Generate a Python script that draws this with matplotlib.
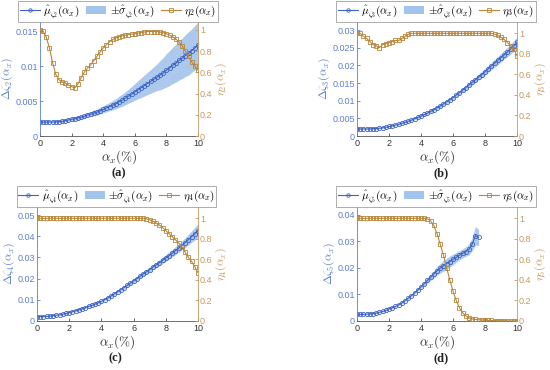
import numpy as np
import matplotlib
matplotlib.use("Agg")
import matplotlib.pyplot as plt
from matplotlib.ticker import FuncFormatter
from matplotlib.patches import Patch
from matplotlib.lines import Line2D

plt.rcParams['font.family'] = ['Liberation Sans', 'DejaVu Sans']
plt.rcParams['mathtext.fontset'] = 'cm'

alpha_x = np.linspace(0, 10, 51)

mu_a = [0.0020, 0.0020, 0.0020, 0.0020, 0.0020, 0.00202, 0.00206, 0.00212, 0.0022, 0.0023,
        0.0024, 0.0025, 0.0026, 0.0027, 0.0028, 0.0030, 0.0031, 0.0033, 0.0034, 0.0036,
        0.0038, 0.0040, 0.0042, 0.0044, 0.0046, 0.0049, 0.0051, 0.0054, 0.0057, 0.0060,
        0.0063, 0.0066, 0.0069, 0.0072, 0.0075, 0.0078, 0.0081, 0.0084, 0.0087, 0.0090,
        0.0094, 0.0097, 0.0101, 0.0104, 0.0108, 0.0111, 0.0115, 0.0118, 0.0122, 0.0126, 0.0130]
sd_a = [0.0001, 0.0001, 0.0001, 0.0001, 0.0001, 0.0001, 0.00012, 0.00014, 0.00016, 0.00018,
        0.0002, 0.00022, 0.00025, 0.00028, 0.0003, 0.00033, 0.00036, 0.0004, 0.00043, 0.00046,
        0.0005, 0.00055, 0.0006, 0.00066, 0.00073, 0.0008, 0.00087, 0.00094, 0.001, 0.0011,
        0.0012, 0.0013, 0.0014, 0.0015, 0.0016, 0.0017, 0.0018, 0.0019, 0.0021, 0.0022,
        0.0024, 0.0025, 0.0026, 0.0027, 0.0028, 0.0029, 0.0030, 0.0031, 0.0031, 0.0032, 0.0033]
eta_a = [1.0, 0.99, 0.93, 0.83, 0.69, 0.58, 0.53, 0.51, 0.50, 0.48,
         0.465, 0.455, 0.49, 0.55, 0.60, 0.64, 0.67, 0.71, 0.75, 0.79,
         0.83, 0.86, 0.89, 0.91, 0.925, 0.935, 0.945, 0.95, 0.955, 0.96,
         0.965, 0.97, 0.975, 0.98, 0.985, 0.985, 0.985, 0.985, 0.98, 0.975,
         0.965, 0.95, 0.935, 0.915, 0.885, 0.85, 0.80, 0.75, 0.70, 0.66, 0.62]

mu_b = [0.0020, 0.0020, 0.0020, 0.0020, 0.0020, 0.0021, 0.0021, 0.0022, 0.0023, 0.0025,
        0.0027, 0.0029, 0.0031, 0.0033, 0.0036, 0.0039, 0.0042, 0.0045, 0.0049, 0.0053,
        0.0057, 0.0061, 0.0065, 0.0070, 0.0075, 0.0080, 0.0085, 0.0091, 0.0097, 0.0103,
        0.0109, 0.0116, 0.0123, 0.0130, 0.0137, 0.0145, 0.0152, 0.0159, 0.0167, 0.0174,
        0.0182, 0.0190, 0.0198, 0.0206, 0.0214, 0.0222, 0.0230, 0.0238, 0.0246, 0.0255, 0.0265]
sd_b = [0.0001] * 10 + [
        0.00012, 0.00014, 0.00016, 0.00018, 0.0002, 0.00022, 0.00024, 0.00026, 0.00028, 0.0003,
        0.00032, 0.00034, 0.00036, 0.00038, 0.0004, 0.00042, 0.00044, 0.00046, 0.00048, 0.0005,
        0.00053, 0.00056, 0.0006, 0.00064, 0.00068, 0.00072, 0.00076, 0.0008, 0.00085, 0.0009,
        0.00095, 0.001, 0.00105, 0.0011, 0.00115, 0.0012, 0.00125, 0.0013, 0.0014, 0.0015, 0.0016]
eta_b = [1.0, 1.0, 0.97, 0.95, 0.92, 0.89, 0.88, 0.86, 0.89, 0.90,
         0.91, 0.92, 0.93, 0.93, 0.95, 0.97, 0.99] + [1.0] * 26 + [
         0.99, 0.98, 0.96, 0.94, 0.91, 0.88, 0.85, 0.78]

mu_c = [0.0020, 0.0020, 0.0021, 0.0022, 0.0023, 0.0025, 0.0027, 0.0029, 0.0032, 0.0036,
        0.0040, 0.0044, 0.0048, 0.0053, 0.0058, 0.0063, 0.0069, 0.0074, 0.0080, 0.0086,
        0.0093, 0.0101, 0.0109, 0.0118, 0.0128, 0.0138, 0.0148, 0.0158, 0.0168, 0.0179,
        0.0190, 0.0200, 0.0211, 0.0222, 0.0232, 0.0243, 0.0254, 0.0264, 0.0275, 0.0286,
        0.0297, 0.0308, 0.0320, 0.0332, 0.0344, 0.0356, 0.0370, 0.0384, 0.0398, 0.0412, 0.0426]
sd_c = [0.0001, 0.0001, 0.0001, 0.00012, 0.00014, 0.00016, 0.00018, 0.0002, 0.00022, 0.00024,
        0.00026, 0.00028, 0.0003, 0.00032, 0.00034, 0.00036, 0.00038, 0.0004, 0.00042, 0.00044,
        0.00046, 0.0005, 0.00055, 0.0006, 0.00065, 0.0007, 0.00075, 0.0008, 0.00085, 0.0009,
        0.00095, 0.001, 0.00105, 0.0011, 0.00115, 0.0012, 0.00125, 0.0013, 0.0014, 0.0015,
        0.0016, 0.0017, 0.0018, 0.0019, 0.0020, 0.0021, 0.0023, 0.0025, 0.0027, 0.0030, 0.0033]
eta_c = [1.0] * 34 + [0.995, 0.985, 0.97, 0.955, 0.935, 0.91, 0.88, 0.85, 0.82, 0.79,
                      0.76, 0.72, 0.67, 0.62, 0.58, 0.53, 0.47]

mu_d = [0.0025, 0.0025, 0.0025, 0.0026, 0.0027, 0.0028, 0.0030, 0.0033, 0.0036, 0.0040,
        0.0046, 0.0050, 0.0055, 0.0061, 0.0068, 0.0077, 0.0086, 0.0096, 0.0106, 0.0117,
        0.0129, 0.0141, 0.0153, 0.0165, 0.0177, 0.0189, 0.0199, 0.0208, 0.0216, 0.0224,
        0.0232, 0.0240, 0.0248, 0.0255, 0.0262, 0.0270, 0.0290, 0.0322, 0.0315]
sd_d = [0.0001, 0.0001, 0.0001, 0.00011, 0.00012, 0.00013, 0.00014, 0.00016, 0.00018, 0.0002,
        0.00022, 0.00024, 0.00026, 0.00028, 0.0003, 0.00033, 0.00036, 0.0004, 0.00045, 0.0005,
        0.0006, 0.0008, 0.0010, 0.0012, 0.0014, 0.0016, 0.0018, 0.0020, 0.0021, 0.0021,
        0.0020, 0.0018, 0.0017, 0.0017, 0.0018, 0.0020, 0.0025, 0.0035, 0.0030]
eta_d = [1.0] * 22 + [0.995, 0.975, 0.93, 0.85, 0.75, 0.64, 0.52, 0.40, 0.29, 0.20,
                      0.13, 0.08, 0.05, 0.03, 0.02, 0.015, 0.012, 0.01, 0.008, 0.006,
                      0.005, 0.004, 0.003, 0.002, 0.002, 0.001, 0.001, 0.001, 0.001]

left_ticks = {
    'a': [0, 0.005, 0.01, 0.015],
    'b': [0, 0.005, 0.01, 0.015, 0.02, 0.025, 0.03],
    'c': [0, 0.01, 0.02, 0.03, 0.04, 0.05],
    'd': [0, 0.01, 0.02, 0.03, 0.04],
}
right_ticks = [0, 0.2, 0.4, 0.6, 0.8, 1]
x_ticks = [0, 2, 4, 6, 8, 10]

BLUE = '#3f63c4'
BLUE_AX = '#5b7fd0'
BAND = '#a3c4ec'
ORANGE = '#b8863c'
ORANGE_AX = '#c49a62'

W, H = 550, 370
fig = plt.figure(figsize=(5.5, 3.7), dpi=100)

def fmt(v, pos):
    return ('%g' % v)

panels = [
    # key, idx, mu, sd, eta, left px, right px, top px, bottom px, ytop_left, ytop_right, caption center x
    ('a', 2, mu_a, sd_a, eta_a, 40, 198, 22, 136, 0.0163, 1.075, 119),
    ('b', 3, mu_b, sd_b, eta_b, 357, 517, 22, 136, 0.0323, 1.11, 441),
    ('c', 4, mu_c, sd_c, eta_c, 37, 198, 207, 321, 0.0538, 1.11, 115),
    ('d', 5, mu_d, sd_d, eta_d, 357, 517, 207, 321, 0.0430, 1.11, 441),
]

for key, k, mu, sd, eta, l, r, t, b, ytl, ytr, capx in panels:
    ax = fig.add_axes([l / W, 1 - b / H, (r - l) / W, (b - t) / H])
    ax2 = ax.twinx()
    n = len(mu)
    xs = alpha_x[:n]
    mu_arr = np.array(mu)
    sd_arr = np.array(sd)
    ax.fill_between(xs, mu_arr - sd_arr, mu_arr + sd_arr, color=BAND, alpha=0.9,
                    linewidth=0)
    ax.plot(xs, mu_arr, '-o', color=BLUE, lw=0.8, ms=3.0, mfc='none', mew=0.6)
    ax2.plot(alpha_x, eta, '-s', color=ORANGE, lw=0.8, ms=2.8, mfc='none', mew=0.6)

    ax.set_xlim(0, 10)
    ax.set_ylim(0, ytl)
    ax2.set_ylim(0, ytr)
    ax.set_xticks(x_ticks)
    ax.set_yticks(left_ticks[key])
    ax2.set_yticks(right_ticks)
    ax.yaxis.set_major_formatter(FuncFormatter(fmt))
    ax2.yaxis.set_major_formatter(FuncFormatter(fmt))

    for a in (ax, ax2):
        a.spines['top'].set_visible(False)
        a.tick_params(direction='in', length=2.5, width=0.6, labelsize=6.5, pad=2)
        a.patch.set_visible(False)
    ax.spines['right'].set_visible(False)
    ax2.spines['left'].set_visible(False)
    ax2.spines['bottom'].set_visible(False)
    ax.spines['left'].set_color(BLUE_AX)
    ax.spines['bottom'].set_color('#555555')
    ax2.spines['right'].set_color(ORANGE_AX)
    for s in ('left', 'bottom'):
        ax.spines[s].set_linewidth(0.6)
    ax2.spines['right'].set_linewidth(0.6)
    ax.tick_params(axis='y', colors=BLUE_AX, pad=1.5)
    ax.tick_params(axis='x', colors='#555555', labelcolor='#333333')
    ax2.tick_params(axis='y', colors=ORANGE_AX, pad=1.5)

    ax.set_xlabel(r'$\alpha_x(\%)$', fontsize=9.5, color='#333333', labelpad=0)
    ax.set_ylabel(r'$\Delta\zeta_{%d}(\alpha_x)$' % k, fontsize=8.5, color=BLUE_AX, labelpad=0.5)
    ax2.set_ylabel(r'$\eta_{%d}(\alpha_x)$' % k, fontsize=8.5, color=ORANGE_AX, labelpad=0.5)

    handles = [
        Line2D([], [], color=BLUE, lw=0.8, marker='o', ms=2.5, mfc='none', mew=0.6),
        Patch(facecolor=BAND, edgecolor='none'),
        Line2D([], [], color=ORANGE, lw=0.8, marker='s', ms=2.5, mfc='none', mew=0.6),
    ]
    labels = [r'$\hat{\mu}_{\zeta_{%d}}(\alpha_x)$' % k,
              r'$\pm\hat{\sigma}_{\zeta_{%d}}(\alpha_x)$' % k,
              r'$\eta_{%d}(\alpha_x)$' % k]
    cx = (l + r) / 2 - 1
    cy = t - 10.5
    leg = fig.legend(handles, labels, loc='center', bbox_to_anchor=(cx / W, 1 - cy / H),
                     ncol=3, fontsize=8, frameon=True, fancybox=False,
                     handlelength=1.8, handletextpad=0.3, columnspacing=0.6,
                     borderpad=0.15, borderaxespad=0, handleheight=0.8)
    leg.get_frame().set_edgecolor('#888888')
    leg.get_frame().set_linewidth(0.6)

    fig.text(capx / W, 1 - (b + 37) / H, '(%s)' % key, ha='center', va='center',
             fontsize=9, fontweight='bold', family='Liberation Serif', color='#222222')

fig.savefig('out.png', dpi=100)
